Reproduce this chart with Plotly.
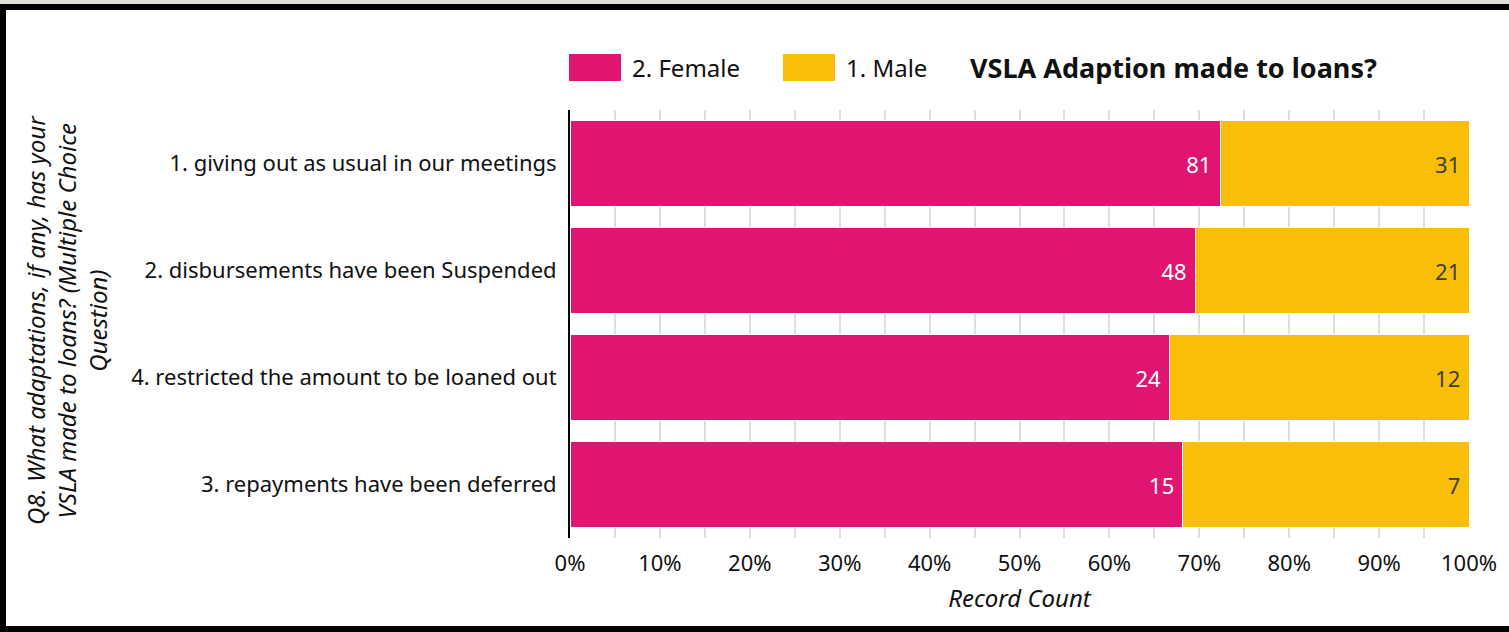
import plotly.graph_objects as go

categories = [
    "1. giving out as usual in our meetings",
    "2. disbursements have been Suspended",
    "4. restricted the amount to be loaned out",
    "3. repayments have been deferred",
]
female = [81, 48, 24, 15]
male = [31, 21, 12, 7]
series_names = ["2. Female", "1. Male"]
tick_vals = [0, 10, 20, 30, 40, 50, 60, 70, 80, 90, 100]
tick_text = [f"{v}%" for v in tick_vals]

PINK = "#E01572"
YELLOW = "#F9BE07"
FONT = "Noto Sans"
TXT = "#111111"

W, H = 1509, 632
L, R, T, B = 570, 40, 110, 94
PW, PH = W - L - R, H - T - B


def px(x):
    return (x - L) / PW


def py(y):
    return (H - B - y) / PH


fig = go.Figure()
fig.add_trace(go.Bar(
    y=categories, x=female, name=series_names[0], orientation="h",
    marker=dict(color=PINK, line=dict(color="white", width=1)),
    text=female, texttemplate="%{text} ", textposition="inside",
    insidetextanchor="end", textfont=dict(color="white", size=22, family=FONT),
    showlegend=False,
))
fig.add_trace(go.Bar(
    y=categories, x=male, name=series_names[1], orientation="h",
    marker=dict(color=YELLOW, line=dict(color="white", width=1)),
    text=male, texttemplate="%{text} ", textposition="inside",
    insidetextanchor="end", textfont=dict(color="#404040", size=22, family=FONT),
    showlegend=False,
))

fig.update_layout(
    width=W, height=H,
    margin=dict(l=L, r=R, t=T, b=B, autoexpand=False),
    barmode="stack", barnorm="percent", bargap=0.2,
    plot_bgcolor="white", paper_bgcolor="white",
    font=dict(family=FONT, size=22, color=TXT),
    xaxis=dict(
        range=[0, 100], tickvals=tick_vals, ticktext=tick_text,
        showgrid=True, gridcolor="#DDDDDD", gridwidth=2,
        minor=dict(dtick=5, showgrid=True, gridcolor="#DDDDDD", gridwidth=2),
        zeroline=False, showline=False, ticks="", ticklabelstandoff=10,
        tickfont=dict(size=22, color=TXT),
        title=dict(text="<i>Record Count</i>", font=dict(size=24, color=TXT), standoff=14),
    ),
    yaxis=dict(
        autorange="reversed", showline=True, linecolor="black", linewidth=2,
        showgrid=False, ticks="", ticklabelstandoff=7,
        tickfont=dict(size=22, color=TXT),
    ),
)

# Y-axis title as rotated annotation
fig.add_annotation(
    text="<i>Q8. What adaptations, if any, has your<br>VSLA made to loans? (Multiple Choice<br>Question)</i>",
    xref="paper", yref="paper", x=px(66), y=py(320), textangle=-90,
    showarrow=False, font=dict(size=24, color=TXT), align="center",
    xanchor="center", yanchor="middle",
)

# Legend swatches and labels
fig.add_shape(type="rect", xref="paper", yref="paper", x0=px(569), x1=px(621), y0=py(81), y1=py(54),
              fillcolor=PINK, line=dict(width=0))
fig.add_annotation(text=series_names[0], xref="paper", yref="paper", x=px(630), y=py(67),
                   xanchor="left", yanchor="middle", showarrow=False,
                   font=dict(size=24, color=TXT))
fig.add_shape(type="rect", xref="paper", yref="paper", x0=px(783), x1=px(835), y0=py(81), y1=py(54),
              fillcolor=YELLOW, line=dict(width=0))
fig.add_annotation(text=series_names[1], xref="paper", yref="paper", x=px(844), y=py(67),
                   xanchor="left", yanchor="middle", showarrow=False,
                   font=dict(size=24, color=TXT))
fig.add_annotation(text="<b>VSLA Adaption made to loans?</b>", xref="paper", yref="paper",
                   x=px(968), y=py(67), xanchor="left", yanchor="middle", showarrow=False,
                   font=dict(size=27, color=TXT))

# Frame
fig.add_shape(type="rect", xref="paper", yref="paper", x0=px(0), x1=px(W), y0=py(0), y1=py(4),
              fillcolor="#E2E1D6", line=dict(width=0), layer="above")
fig.add_shape(type="rect", xref="paper", yref="paper", x0=px(0), x1=px(W), y0=py(4), y1=py(10),
              fillcolor="black", line=dict(width=0), layer="above")
fig.add_shape(type="rect", xref="paper", yref="paper", x0=px(0), x1=px(6), y0=py(4), y1=py(H),
              fillcolor="black", line=dict(width=0), layer="above")
fig.add_shape(type="rect", xref="paper", yref="paper", x0=px(0), x1=px(W), y0=py(626), y1=py(H),
              fillcolor="black", line=dict(width=0), layer="above")

fig.write_html(
    "out.html",
    config={"displayModeBar": False},
    post_script="document.body.style.margin='0';document.body.style.overflow='hidden';",
)
